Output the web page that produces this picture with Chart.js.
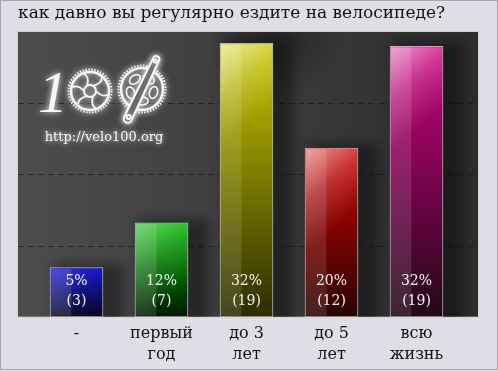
<!DOCTYPE html>
<html>
<head>
<meta charset="utf-8">
<script src="https://cdn.jsdelivr.net/npm/chart.js@4/dist/chart.umd.min.js"></script>
<style>
  html, body { margin: 0; padding: 0; background: #dedee7; }
</style>
</head>
<body>
<canvas id="chart" width="498" height="371"></canvas>
<script>
const title = 'как давно вы регулярно ездите на велосипеде?';
const categories = ['-', ['первый', 'год'], ['до 3', 'лет'], ['до 5', 'лет'], ['всю', 'жизнь']];
const percents = [5, 12, 32, 20, 32];
const counts = [3, 7, 19, 12, 19];
// bar heights as drawn, on a 0..20 scale
const heights = [3.45, 6.6, 19.2, 11.85, 19.0];
const yTicks = [0, 5, 10, 15, 20];
const topColors = ['#0000cc', '#00b800', '#c8c800', '#cc0000', '#cc0080'];
const bottomColors = ['#00001a', '#001a00', '#2c2c00', '#2a0400', '#220818'];

const serif = '"DejaVu Serif", serif';

// dark plot box is a bit wider than the bar area
const plotBox = (chart) => {
  const a = chart.chartArea;
  return { l: a.left - 16, r: a.right + 19, t: a.top, b: a.bottom };
};

function gearA(ctx, cx, cy) {
  ctx.lineWidth = 2.5;
  ctx.beginPath(); ctx.arc(cx, cy, 19, 0, Math.PI * 2); ctx.stroke();
  ctx.save();
  ctx.setLineDash([1.5, 1.5]);
  ctx.lineWidth = 2;
  ctx.beginPath(); ctx.arc(cx, cy, 21.5, 0, Math.PI * 2); ctx.stroke();
  ctx.restore();
  ctx.lineWidth = 2;
  ctx.beginPath(); ctx.arc(cx, cy, 6, 0, Math.PI * 2); ctx.stroke();
  ctx.lineWidth = 1.8;
  for (let k = 0; k < 6; k++) {
    const a = k * Math.PI / 3;
    ctx.beginPath();
    ctx.moveTo(cx + 6 * Math.cos(a), cy + 6 * Math.sin(a));
    ctx.quadraticCurveTo(cx + 14 * Math.cos(a + 0.5), cy + 14 * Math.sin(a + 0.5),
      cx + 18 * Math.cos(a + 0.2), cy + 18 * Math.sin(a + 0.2));
    ctx.stroke();
  }
}

function gearB(ctx, cx, cy) {
  ctx.lineWidth = 2.5;
  ctx.beginPath(); ctx.arc(cx, cy, 21, 0, Math.PI * 2); ctx.stroke();
  ctx.save();
  ctx.setLineDash([1.5, 1.5]);
  ctx.lineWidth = 2;
  ctx.beginPath(); ctx.arc(cx, cy, 23.5, 0, Math.PI * 2); ctx.stroke();
  ctx.restore();
  ctx.lineWidth = 1.6;
  for (let k = 0; k < 5; k++) {
    const a = k * Math.PI * 2 / 5 + 0.3;
    ctx.beginPath();
    ctx.ellipse(cx + 12 * Math.cos(a), cy + 12 * Math.sin(a), 4, 6, a, 0, Math.PI * 2);
    ctx.stroke();
  }
  // crank arm
  const ang = Math.atan2(53 - 120, 157 - 125);
  ctx.save();
  ctx.translate(cx, cy);
  ctx.rotate(ang);
  ctx.fillStyle = '#3a3a3c';
  ctx.lineWidth = 2;
  ctx.beginPath();
  ctx.moveTo(-33, -4); ctx.lineTo(33, -3);
  ctx.arc(33, 0, 3, -Math.PI / 2, Math.PI / 2);
  ctx.lineTo(-33, 4);
  ctx.arc(-33, 0, 4, Math.PI / 2, Math.PI * 1.5);
  ctx.closePath();
  ctx.fill(); ctx.stroke();
  ctx.beginPath(); ctx.arc(31, 0, 1.5, 0, Math.PI * 2); ctx.stroke();
  ctx.beginPath(); ctx.arc(-31, 0, 2, 0, Math.PI * 2); ctx.stroke();
  ctx.restore();
}

const backdrop = {
  id: 'backdrop',
  beforeDraw(chart) {
    const ctx = chart.ctx;
    const p = plotBox(chart);
    ctx.save();
    ctx.fillStyle = '#dedee7';
    ctx.fillRect(0, 0, chart.width, chart.height);
    ctx.strokeStyle = '#a6a6ae';
    ctx.lineWidth = 1;
    ctx.strokeRect(0.5, 0.5, 497, 369);

    // title
    ctx.fillStyle = '#111';
    ctx.font = '17px ' + serif;
    ctx.textBaseline = 'middle';
    ctx.fillText(title, 18, 14);

    // plot box
    const g = ctx.createLinearGradient(p.l, 0, p.r, 0);
    g.addColorStop(0, '#4d4d4f');
    g.addColorStop(0.5, '#3d3d3f');
    g.addColorStop(1, '#2c2c2d');
    ctx.fillStyle = g;
    ctx.fillRect(p.l, p.t, p.r - p.l, p.b - p.t);
    const r = ctx.createRadialGradient(275, p.t, 0, 275, p.t, 70);
    r.addColorStop(0, 'rgba(0,0,0,0.35)');
    r.addColorStop(1, 'rgba(0,0,0,0)');
    ctx.fillStyle = r;
    ctx.fillRect(p.l, p.t, p.r - p.l, p.b - p.t);
    ctx.strokeStyle = 'rgba(225,200,190,0.8)';
    ctx.strokeRect(p.l - 0.5, p.t - 0.5, p.r - p.l + 1, p.b - p.t + 1);

    // dashed grid lines
    ctx.strokeStyle = 'rgba(20,20,20,0.6)';
    ctx.setLineDash([6, 4]);
    yTicks.slice(1, -1).forEach((v) => {
      const y = Math.round(chart.scales.y.getPixelForValue(v)) + 0.5;
      ctx.beginPath(); ctx.moveTo(p.l, y); ctx.lineTo(p.r, y); ctx.stroke();
    });
    ctx.setLineDash([]);

    // logo
    ctx.shadowColor = 'rgba(255,255,255,0.9)';
    ctx.shadowBlur = 6;
    ctx.fillStyle = '#f6f6f6';
    ctx.strokeStyle = '#f6f6f6';
    ctx.font = 'italic 60px "Liberation Serif", serif';
    ctx.textBaseline = 'alphabetic';
    ctx.fillText('1', 38, 112);
    gearA(ctx, 90, 91);
    gearB(ctx, 142, 89);
    ctx.fillStyle = '#f6f6f6';
    ctx.shadowBlur = 5;
    ctx.font = '13px ' + serif;
    ctx.textAlign = 'center';
    ctx.textBaseline = 'middle';
    ctx.fillText('http://velo100.org', 104, 138);
    ctx.restore();
  },
  beforeDatasetsDraw(chart) {
    // soft shadows to the right of each bar
    const ctx = chart.ctx;
    const p = plotBox(chart);
    ctx.save();
    ctx.beginPath(); ctx.rect(p.l, p.t, p.r - p.l, p.b - p.t); ctx.clip();
    ctx.filter = 'blur(6px)';
    ctx.fillStyle = 'rgba(0,0,0,0.4)';
    chart.getDatasetMeta(0).data.forEach((bar) => {
      const { x, y, base, width } = bar.getProps(['x', 'y', 'base', 'width'], true);
      ctx.fillRect(x - width / 2 + 4, y - 4, width + 16, base - y + 20);
    });
    ctx.restore();
  },
  afterDatasetsDraw(chart) {
    const ctx = chart.ctx;
    ctx.save();
    chart.getDatasetMeta(0).data.forEach((bar, i) => {
      const { x, y, base, width } = bar.getProps(['x', 'y', 'base', 'width'], true);
      const l = x - width / 2 + 1, w = width - 2, t = y + 1, h = base - y - 2;
      const k = Math.min(1, h / 140);
      // gloss
      ctx.fillStyle = 'rgba(255,255,255,0.12)';
      ctx.fillRect(l, t, w * 0.4, h);
      const g = ctx.createLinearGradient(l, t, l + w, t + w * 1.2);
      g.addColorStop(0, 'rgba(255,255,255,' + (0.6 * k) + ')');
      g.addColorStop(0.5, 'rgba(255,255,255,' + (0.2 * k) + ')');
      g.addColorStop(1, 'rgba(255,255,255,0)');
      ctx.fillStyle = g;
      ctx.fillRect(l, t, w, Math.min(h, w * 2.4));

      // value labels
      ctx.fillStyle = '#f2f2f2';
      ctx.font = '14px ' + serif;
      ctx.textAlign = 'center';
      ctx.textBaseline = 'middle';
      ctx.fillText(percents[i] + '%', x, 281);
      ctx.fillText('(' + counts[i] + ')', x, 301);
    });
    ctx.restore();
  }
};

const chart = new Chart(document.getElementById('chart'), {
  type: 'bar',
  data: {
    labels: categories,
    datasets: [{
      data: heights,
      barThickness: 53,
      borderWidth: 1,
      borderSkipped: false,
      borderColor: 'rgba(230,230,230,0.75)',
      backgroundColor: (ctx) => {
        const c = ctx.chart;
        const i = ctx.dataIndex;
        if (!c.chartArea || i === undefined) return topColors[0];
        const ys = c.scales.y;
        const g = c.ctx.createLinearGradient(0, ys.getPixelForValue(heights[i]), 0, ys.getPixelForValue(0));
        g.addColorStop(0, topColors[i]);
        g.addColorStop(1, bottomColors[i]);
        return g;
      }
    }]
  },
  options: {
    responsive: false,
    animation: false,
    layout: { padding: { left: 34, right: 39, top: 32, bottom: 7 } },
    plugins: { legend: { display: false }, tooltip: { enabled: false }, title: { display: false } },
    scales: {
      x: {
        grid: { display: false },
        border: { display: false },
        ticks: { color: '#111', font: { family: serif, size: 16, lineHeight: 1.35 }, padding: -2, maxRotation: 0 }
      },
      y: {
        display: false,
        min: 0,
        max: 20
      }
    }
  },
  plugins: [backdrop]
});
</script>
</body>
</html>
